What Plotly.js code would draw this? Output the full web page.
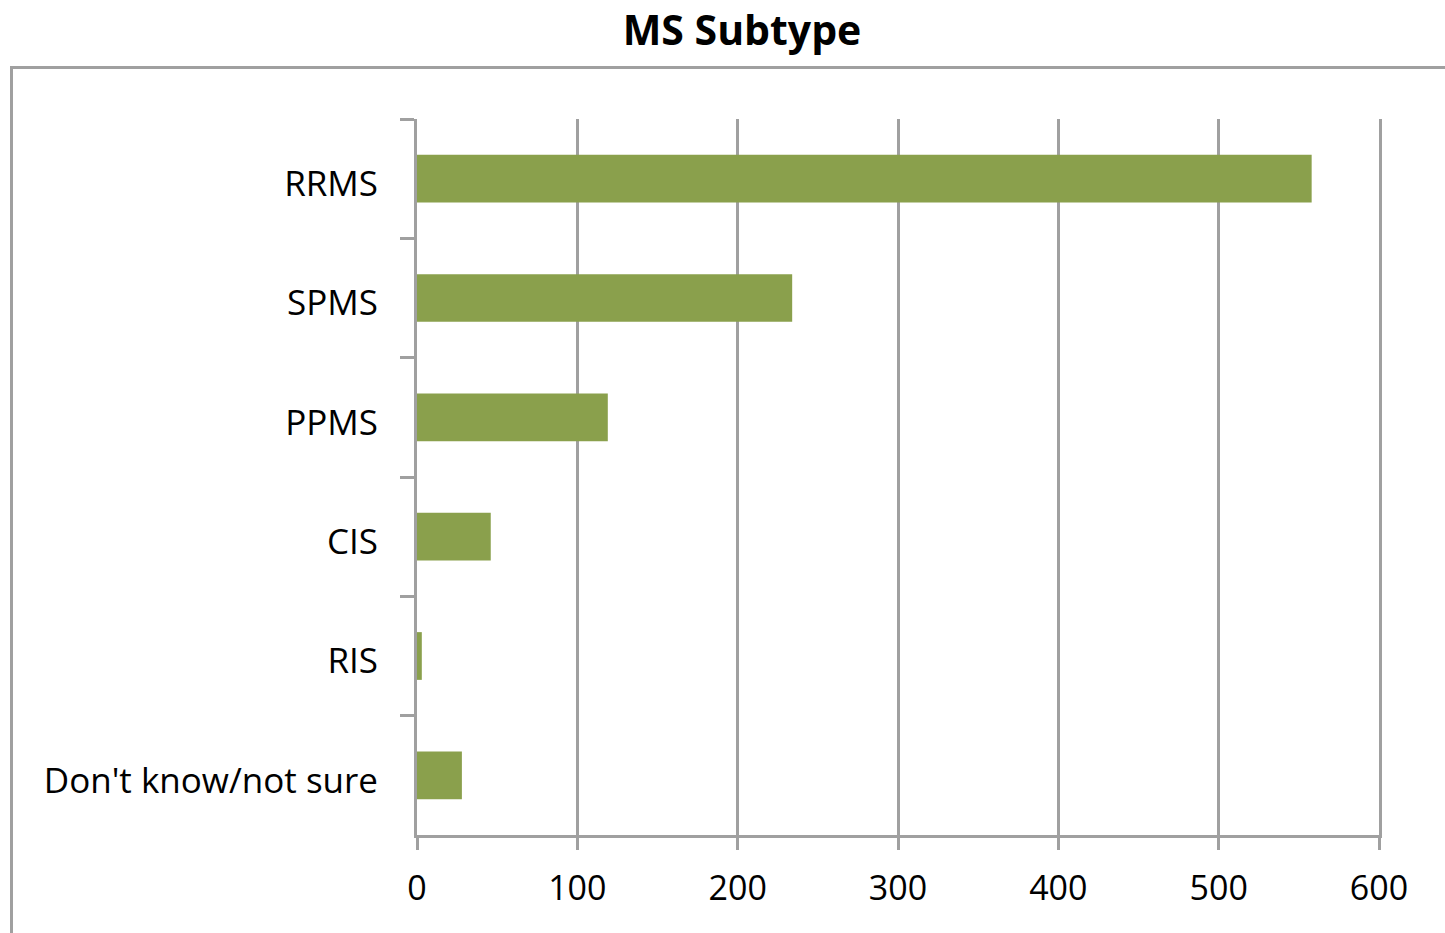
<!DOCTYPE html>
<html>
<head>
<meta charset="utf-8">
<script src="https://cdn.plot.ly/plotly-3.0.1.min.js"></script>
<style>
html,body{margin:0;padding:0;background:#fff;overflow:hidden;}
#frame{position:absolute;left:10px;top:66px;width:1500px;height:1000px;border:3px solid #A0A0A0;box-sizing:border-box;}
#chart{position:absolute;left:0;top:0;width:1445px;height:933px;}
</style>
</head>
<body>
<div id="frame"></div>
<div id="chart"></div>
<script>
const categories = ["RRMS", "SPMS", "PPMS", "CIS", "RIS", "Don't know/not sure"];
const counts = [558, 234, 119, 46, 3, 28];
const xTicks = [0, 100, 200, 300, 400, 500, 600];

const trace = {
  type: 'bar',
  orientation: 'h',
  y: categories,
  x: counts,
  marker: {color: '#8AA04C', line: {width: 0}},
  hoverinfo: 'x+y'
};
// empty helper trace so the right-hand frame axis (at x = 600) is drawn
const frameHelper = {
  type: 'scatter', mode: 'none',
  x: [], y: [],
  yaxis: 'y2',
  showlegend: false, hoverinfo: 'skip'
};

const grey = '#A0A0A0';
const layout = {
  width: 1445, height: 933,
  paper_bgcolor: 'rgba(0,0,0,0)',
  plot_bgcolor: 'rgba(0,0,0,0)',
  margin: {l: 417, r: 66, t: 119, b: 98, pad: 0},
  showlegend: false,
  bargap: 0.6,
  font: {family: 'Open Sans, sans-serif', color: '#000'},
  title: {
    text: '<b>MS Subtype</b>',
    font: {family: 'Open Sans, sans-serif', size: 41, color: '#000'},
    xref: 'container', yref: 'container',
    x: 742/1445, xanchor: 'center',
    y: 1 - 31/933, yanchor: 'middle'
  },
  xaxis: {
    range: [0, 600],
    tickvals: xTicks,
    ticktext: xTicks.map(String),
    showgrid: true, gridcolor: grey, gridwidth: 3,
    zeroline: false,
    showline: true, linecolor: grey, linewidth: 3,
    ticks: 'outside', ticklen: 12, tickwidth: 3, tickcolor: grey,
    tickfont: {size: 34, color: '#000'},
    ticklabelstandoff: 9,
    fixedrange: true
  },
  yaxis: {
    type: 'category',
    categoryorder: 'array',
    categoryarray: categories,
    autorange: 'reversed',
    tickson: 'boundaries',
    showgrid: false,
    showline: true, linecolor: grey, linewidth: 3,
    ticks: 'outside', ticklen: 14, tickwidth: 3, tickcolor: grey,
    tickfont: {size: 35, color: '#000'},
    ticklabelstandoff: 29,
    ticklabelshift: -5,
    fixedrange: true
  },
  yaxis2: {
    overlaying: 'y',
    side: 'right',
    range: [0, 1],
    showline: true, linecolor: grey, linewidth: 3,
    showgrid: false, zeroline: false,
    ticks: '', showticklabels: false,
    fixedrange: true
  }
};

Plotly.newPlot('chart', [trace, frameHelper], layout, {displayModeBar: false, staticPlot: true});
</script>
</body>
</html>
